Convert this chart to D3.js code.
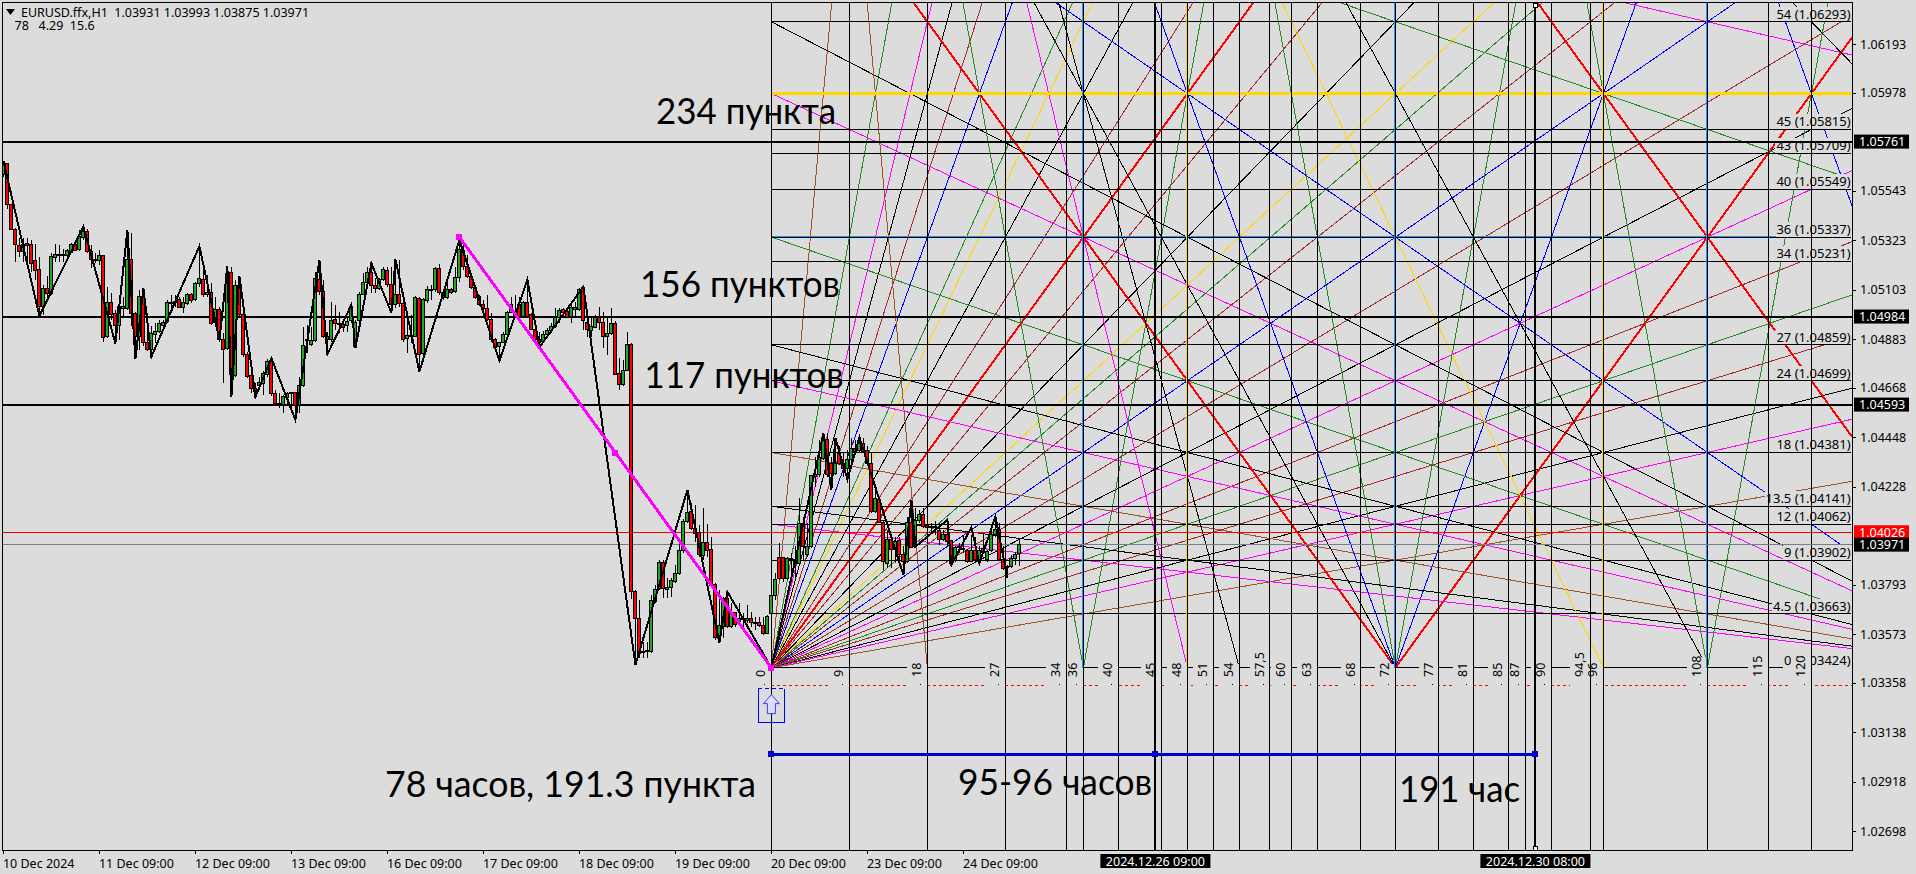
<!DOCTYPE html>
<html><head><meta charset="utf-8">
<script src="https://cdn.jsdelivr.net/npm/d3@7"></script>
<style>
html,body{margin:0;padding:0;background:#dcdcdc;overflow:hidden}
svg{display:block}
text{font-family:"Noto Sans",sans-serif;font-size:12.5px;fill:#000}
.lv{font-size:13px}
.big{font-family:Lato,"Open Sans",sans-serif;font-size:37px}
</style></head><body><svg id="c" width="1916" height="874"></svg>
<script>
// Candles: values are points above 1.00000 (price = 1 + n/100000), hourly bars from 10 Dec 2024
const opens=[5613,5662,5480,5369,5299,5273,5310,5302,5231,5191,
5028,5110,5088,5246,5256,5256,5255,5268,5305,5280,
5336,5361,5273,5239,5233,5253,4895,5048,4996,4944,
5021,5021,5236,4999,4895,5068,4869,4836,4906,4917,
4944,4962,5045,5051,5058,5025,5043,5083,5058,5132,
5150,5083,5092,4959,5016,4883,4843,5179,4722,5121,
4994,4817,4720,4666,4677,4688,4728,4784,4643,4599,
4595,4626,4643,4646,4587,4676,4877,4858,4877,5150,
5095,4895,4883,4972,4951,4947,4942,4965,4851,4965,
5084,5136,5179,5120,5110,5150,5188,5127,5036,5080,
5043,4888,4902,4895,5065,4821,5055,5102,5105,5198,
5090,5068,5102,5095,5158,5277,5206,5161,5113,5073,
5039,5021,4969,4883,4851,4870,4905,5003,5003,5039,
4984,5046,4991,4928,4880,4873,4905,4920,4939,4981,
5016,5005,4984,5016,5016,5113,4957,4922,4936,4979,
4957,4895,4910,4954,4732,4680,4744,4858,3762,3644,
3496,3495,3496,3718,3777,3893,3773,3780,3807,3844,
3943,4073,4118,4044,4024,3925,3981,3950,3792,3555,
3607,3733,3607,3669,3629,3644,3632,3644,3626,3626,
3614,3577,3667,3744,3915,3915,3822,3911,3906,3889,
4066,3926,3963,4273,4281,4355,4439,4333,4288,4377,
4333,4310,4350,4399,4389,4421,4389,4333,4118,4173,
4069,3889,3992,3948,3988,3929,3896,4069,3963,4077,
4106,4054,4047,4048,4034,3995,4017,3988,3900,3960,
3955,3945,3896,3945,3896,3955,3903,3943,4014,4040,
3906,3869,3874,3909,3931];
const closes=[5662,5480,5369,5305,5273,5305,5299,5221,5188,5028,
5110,5088,5250,5261,5261,5261,5276,5302,5277,5339,
5361,5273,5236,5234,5253,4891,5048,4991,4943,5028,
5028,5236,4999,4895,5073,4869,4836,4907,4916,4954,
4959,5048,5048,5046,5025,5048,5080,5055,5132,5154,
5080,5092,4954,5016,4880,4839,5176,4725,5124,4994,
4814,4717,4666,4651,4692,4729,4784,4643,4596,4595,
4629,4643,4648,4587,4677,4855,4883,4877,5151,5095,
4895,4880,4966,4954,4948,4935,4962,5021,4959,5084,
5136,5179,5120,5110,5150,5191,5127,5039,5080,5043,
4880,4898,4895,5070,4814,5058,5105,5105,5198,5090,
5070,5102,5090,5158,5280,5206,5161,5113,5070,5039,
5021,4969,4880,4846,4870,4905,5003,5039,4984,4984,
5046,4984,4928,4880,4868,4905,4920,4939,4981,5013,
5002,4981,5024,5022,5105,4965,4928,4939,4979,4957,
4895,4910,4954,4728,4680,4744,4861,3762,3644,3489,
3492,3499,3725,3774,3893,3777,3782,3814,3844,3943,
4076,4115,4044,4021,3928,3981,3947,3788,3560,3610,
3733,3607,3671,3615,3644,3640,3644,3625,3623,3611,
3577,3654,3744,3818,3819,3822,3911,3903,3889,4066,
3963,3963,4276,4281,4359,4439,4281,4288,4333,4333,
4310,4350,4399,4381,4421,4384,4333,4118,4174,4069,
3896,3992,3948,3985,3929,3896,4069,3960,4077,4106,
4051,4048,4051,4051,3995,4017,3985,3889,3958,3963,
3951,3896,3945,3903,3945,3936,3940,4017,4040,3906,
3866,3874,3909,3926,3971];
const highs=[5675,5668,5480,5376,5332,5332,5332,5324,5305,5247,
5125,5162,5265,5307,5302,5283,5283,5310,5313,5369,
5384,5372,5302,5265,5280,5258,5117,5088,5014,5073,
5073,5369,5354,5006,5102,5110,4999,4940,4954,4969,
4969,5058,5080,5080,5073,5073,5088,5088,5139,5287,
5221,5169,5132,5073,5028,4910,5206,5206,5147,5164,
4999,4828,4732,4688,4717,4740,4794,4799,4658,4643,
4636,4651,4651,4651,4717,4939,4947,4939,5184,5235,
5147,4917,5050,5036,5006,4962,4976,5036,4969,5095,
5176,5206,5221,5154,5154,5206,5206,5206,5238,5235,
5050,4991,4991,5076,5073,5065,5120,5124,5206,5218,
5099,5154,5110,5206,5324,5309,5258,5169,5117,5080,
5058,5080,4999,4888,4873,4917,5010,5073,5080,5073,
5053,5147,4999,4954,4917,4920,4932,4954,5021,5024,
5024,5021,5036,5050,5110,5120,4984,4984,4991,5025,
5006,4984,5021,4962,4799,4791,4914,4865,3770,3725,
3540,3540,3748,3792,3903,3903,3822,3822,3881,3984,
4084,4214,4155,4147,4058,4132,4063,4007,3799,3770,
3740,3762,3711,3674,3711,3666,3703,3674,3651,3651,
3651,3659,3755,3844,3977,3918,3918,3933,3963,4177,
4096,4066,4281,4362,4436,4466,4466,4362,4444,4407,
4377,4392,4444,4436,4451,4444,4407,4377,4229,4177,
4074,4037,4007,4007,4007,3963,4096,4170,4133,4125,
4133,4081,4066,4074,4066,4037,4077,3992,3966,3977,
4014,3951,4014,4007,3963,4022,3948,4051,4096,4066,
3963,3881,3926,3940,3993];
const lows=[5603,5461,5369,5225,5250,5228,5236,5184,5147,4987,
4991,5073,5080,5228,5228,5228,5250,5265,5273,5276,
5324,5265,5199,5221,5213,4873,4888,4969,4866,4880,
4984,5014,4940,4795,4836,4851,4829,4806,4866,4910,
4925,4954,5014,5028,5021,4999,5036,5043,5051,5117,
5073,5073,4947,4939,4873,4688,4836,4629,4717,4984,
4806,4710,4643,4629,4658,4636,4717,4629,4592,4577,
4555,4592,4584,4525,4555,4673,4821,4851,4873,5080,
4888,4821,4873,4925,4910,4917,4917,4954,4843,4962,
5080,5132,5087,5087,5102,5144,5117,5036,5021,5028,
4873,4824,4865,4892,4740,4814,5043,5058,5095,5080,
5058,5061,5084,5090,5139,5191,5154,5105,5061,5031,
5013,4962,4873,4839,4791,4865,4902,4999,4976,4954,
4976,4976,4925,4873,4858,4868,4895,4913,4935,4954,
4991,4976,4954,4984,5010,4925,4895,4892,4932,4925,
4843,4814,4902,4725,4658,4676,4740,3728,3437,3466,
3466,3466,3489,3711,3770,3733,3733,3740,3799,3836,
3936,4066,4036,3984,3918,3903,3918,3777,3548,3536,
3555,3600,3600,3607,3615,3607,3622,3607,3592,3607,
3570,3574,3424,3726,3815,3807,3815,3822,3829,3881,
3903,3918,3955,4229,4273,4347,4273,4214,4281,4325,
4273,4262,4310,4377,4384,4377,4325,4111,4111,4066,
3859,3866,3866,3889,3889,3837,3889,3955,3955,4066,
4044,4022,4022,4014,3970,3989,3963,3878,3896,3933,
3933,3889,3892,3896,3886,3933,3896,3937,4007,3903,
3859,3825,3866,3881,3875];
// Zigzag turning points
const zigBars=[0,9,20,28,31,33,35,37,49,54,56,57,59,63,67,73,79,81,87,88,92,97,98,104,114,124,131,134,145,158,171,179,181,192,205,207,208,211,214,225,227,228,236,237,242,244,248,251];
const zigPts=[5675,4987,5383,4865,5369,4794,5110,4806,5297,4880,5206,4629,5164,4628,4799,4525,5235,4817,5036,4843,5221,5000,5238,4739,5324,4788,5147,4848,5117,3437,4214,3536,3762,3424,4466,4214,4444,4261,4448,3837,4170,3962,4081,3881,4048,3888,4095,3824];
// Axes
const priceTicks=[1.06193,1.05978,1.05543,1.05323,1.05103,1.04883,1.04668,1.04448,1.04228,1.03793,1.03573,1.03358,1.03138,1.02918,1.02698];
const dateTickBars=[0,24,48,72,96,120,144,168,192,216,240];
const dateTickLabels=["10 Dec 2024","11 Dec 09:00","12 Dec 09:00","13 Dec 09:00","16 Dec 09:00","17 Dec 09:00","18 Dec 09:00","19 Dec 09:00","20 Dec 09:00","23 Dec 09:00","24 Dec 09:00"];
// Gann box
const gannBase=1.03424, gannTop=1.06293, gannTopLevel=54;
const levelValues=[54,45,43,40,36,34,27,24,18,13.5,12,9,4.5,0];
const levelPrices=["1.06293","1.05815","1.05709","1.05549","1.05337","1.05231","1.04859","1.04699","1.04381","1.04141","1.04062","1.03902","1.03663","1.03424"];
const timeLevels=[0,9,18,27,34,36,40,45,48,51,54,57.5,60,63,68,72,77,81,85,87,90,94.5,96,108,115,120];
const timeLabels=["0","9","18","27","34","36","40","45","48","51","54","57,5","60","63","68","72","77","81","85","87","90","94,5","96","108","115","120"];
const blueTimes=[36,72,108], goldTimes=[48,96];
// Rays from the origin (slope in levels per time unit)
const riseSlopes=[8,4,3,8/3,16/7,2,8/5,3/2,4/3,8/7,1,7/8,3/4,2/3,5/8,4/7,1/2,7/16,3/8,1/3,2/7,1/4,2/9,3/16,1/6,1/8];
const riseKinds=["s","g","m","k","b","u","g","y","k","b","r","b","k","y","g","b","u","b","k","m","b","g","b","k","m","s"];
// Other rays: start time, start level, slope, kind
const rays=[[36,0,4,"g"],[72,0,4,"g"],[108,0,4,"g"],[72,0,2,"u"],[72,0,1,"r"],
[0,12,-1/12,"m"],[0,13.5,-3/32,"k"],[0,18,-1/8,"s"],[0,24,-1/6,"m"],[0,27,-3/16,"k"],[0,36,-1/4,"g"],[0,48,-1/3,"m"],[0,54,-3/8,"k"],
[0,72,-1/2,"u"],[0,72,-1/4,"g"],[0,72,-1/6,"m"],[0,72,-1,"r"],[144,0,-1,"r"],[144,0,-2,"u"],[72,0,-2,"u"],
[192,0,-3/4,"k"],[96,0,-3/2,"y"],[108,0,-4/3,"k"],[72,0,-4/3,"k"],[54,0,-8/3,"k"],[48,0,-3,"m"],[18,0,-8,"s"],
[36,0,-4,"g"],[72,0,-4,"g"],[108,0,-4,"g"]];
const rayColor={s:"#A0522D",g:"#228B22",m:"#FF00FF",k:"#000000",b:"#A52A2A",u:"#0000FF",y:"#FFD700",r:"#FF0000"};
// Price lines and annotations
const thickPrices=[1.05761,1.04984,1.04593];
const askPrice=1.04026, bidPrice=1.03971, dashPrice=1.03345, goldLevel=48, blueLevel=36;
const badges=[["1.05761",1.05761,"#000"],["1.04984",1.04984,"#000"],["1.04593",1.04593,"#000"],["1.04026",1.04026,"#f00"],["1.03971",1.03971,"#000"]];
const trendBars=[114,153,192], trendPrices=[1.05337,1.04380,1.03424];
const spanBars=[192,288,383], spanPrice=1.03040,timeMarks=[288,383];
const notes=[["234 пункта",656,1.05839,180],["156 пунктов",640,1.05072,200],["117 пунктов",644.6,1.04667,199],["78 часов, 191.3 пункта",385,1.02851,371],["95-96 часов",958,1.02860,194],["191 час",1399,1.02828,121]];

const L=2,R=1852,T=2,B=850;
const x=d3.scaleLinear().domain([0,254]).range([3.4,3.4+4*254]);
const y=d3.scaleLinear().domain([1.06193,1.02698]).range([44.3,831.3]);
const pn=n=>1+n/100000;
const gx=d3.scaleLinear().domain([0,36]).range([x(192),x(192+78)]);
const gy=d3.scaleLinear().domain([0,gannTopLevel]).range([y(gannBase),y(gannTop)]);
const svg=d3.select("#c");
const defs=svg.append("defs");
defs.append("clipPath").attr("id","plot").append("rect").attr("x",L).attr("y",T).attr("width",R-L).attr("height",B-T);
const g=svg.append("g").attr("clip-path","url(#plot)").attr("shape-rendering","crispEdges");
const hl=(sel,x1,x2,yy,c,w)=>sel.append("line").attr("x1",x1).attr("x2",x2).attr("y1",yy).attr("y2",yy).attr("stroke",c).attr("stroke-width",w);
const vl=(sel,xx,c,w,yb=B)=>sel.append("line").attr("x1",xx).attr("x2",xx).attr("y1",T).attr("y2",yb).attr("stroke",c).attr("stroke-width",w);

// rays
const uMax=gx.invert(R), vMax=gy.invert(T);
const allRays=riseSlopes.map((s,i)=>[0,0,s,riseKinds[i]]).concat(rays);
const gRays=g.append("g");
gRays.selectAll("line").data(allRays).join("line").each(function(d){
  const [u0,v0,s]=d;
  const va=u=>v0+s*(u-u0);
  const ua=u0-v0/s;            // time where v=0
  const ut=u0+(vMax-v0)/s;     // time where v=top
  let a=Math.min(ua,ut), b=Math.max(ua,ut);
  a=Math.max(a,0); b=Math.min(b,uMax);
  d3.select(this).attr("x1",gx(a)).attr("y1",gy(va(a))).attr("x2",gx(b)).attr("y2",gy(va(b)));
}).attr("stroke",d=>rayColor[d[3]]).attr("stroke-width",d=>d[3]==="r"?2:1);

// base line and dashed line
const xEnd=1850.6;
hl(g,gx(0),xEnd,gy(0),"#000",1);
hl(g,gx(0),R,y(dashPrice),"#FF0000",1).attr("stroke-dasharray","3 3");

// level labels
const gLab=g.append("g");
levelValues.forEach((v,i)=>{
  const t=gLab.append("text").attr("class","lv").attr("x",xEnd).attr("y",gy(v)-3).attr("text-anchor","end").text(v+" ("+levelPrices[i]+")");
  const w=t.node().getComputedTextLength();
  gLab.insert("rect","text").attr("x",xEnd-w-1).attr("y",gy(v)-15).attr("width",w+2).attr("height",15).attr("fill","#dcdcdc");
});
// rotated time labels
const gRot=g.append("g");
timeLevels.forEach((u,i)=>{
  const lab=timeLabels[i];
  const tx=gx(u);
  gRot.append("rect").attr("x",tx-20).attr("width",20).attr("y",677-lab.length*6.7).attr("height",lab.length*6.7+13).attr("fill","#dcdcdc");
  gRot.append("text").attr("transform",`translate(${tx-6},677) rotate(-90)`).attr("shape-rendering","auto").text(lab);
  gRot.append("rect").attr("x",tx-7).attr("y",684).attr("width",1).attr("height",1).attr("fill","#000");
});
// level lines
levelValues.filter(v=>v>0).forEach(v=>hl(g,gx(0),xEnd,gy(v),"#000",1));
hl(g,gx(0),1776,gy(blueLevel)-1,"#1E90FF",1);
hl(g,gx(0),R,gy(goldLevel),"#FFD700",2.5);
// time lines: coloured ones stop at the base level
timeLevels.forEach(u=>vl(g,gx(u),"#000",1));
blueTimes.forEach(u=>vl(g,gx(u)-1,"#1E90FF",1,gy(0)));
goldTimes.forEach(u=>vl(g,gx(u)-1,"#FFD700",1,gy(0)));
timeMarks.forEach(b=>vl(g,x(b),"#000",2));

// thick price lines
thickPrices.forEach(p=>hl(g,L,R,y(p),"#000",2));
hl(g,L,R,y(bidPrice),"#708090",1);
hl(g,L,R,y(askPrice),"#FF0000",1);

// candles
const idx=d3.range(opens.length);
const gC=g.append("g");
gC.selectAll("line").data(idx).join("line").attr("x1",i=>x(i)).attr("x2",i=>x(i))
  .attr("y1",i=>y(pn(highs[i]))).attr("y2",i=>y(pn(lows[i]))).attr("stroke","#000").attr("stroke-width",1);
gC.selectAll("rect").data(idx).join("rect")
  .attr("x",i=>x(i)-1.5).attr("width",3)
  .attr("y",i=>y(pn(Math.max(opens[i],closes[i]))))
  .attr("height",i=>Math.max(1,y(pn(Math.min(opens[i],closes[i])))-y(pn(Math.max(opens[i],closes[i])))))
  .attr("fill",i=>closes[i]>=opens[i]?"#22A622":"#FF0000").attr("stroke","#000").attr("stroke-width",1);

// zigzag
g.append("path").attr("d",d3.line().x(d=>x(d[0])).y(d=>y(pn(d[1])))(zigBars.map((b,i)=>[b,zigPts[i]])))
  .attr("fill","none").attr("stroke","#000").attr("stroke-width",2);

// trend line
g.append("path").attr("d",d3.line().x(d=>x(d[0])).y(d=>y(d[1]))(trendBars.map((b,i)=>[b,trendPrices[i]])))
  .attr("fill","none").attr("stroke","#FF00FF").attr("stroke-width",3);
g.selectAll(".tm").data(trendBars).join("rect").attr("class","tm").attr("x",b=>x(b)-3).attr("width",6).attr("height",6)
  .attr("y",(b,i)=>y(trendPrices[i])-3).attr("fill","#FF00FF");

// horizontal measurement
hl(g,x(spanBars[0]),x(spanBars[2]),y(spanPrice),"#0000CC",3);
g.selectAll(".sm").data(spanBars).join("rect").attr("class","sm").attr("x",b=>x(b)-3).attr("y",y(spanPrice)-3).attr("width",6).attr("height",6).attr("fill","#0000CC");
// end handles of the last time line
[5,848].forEach(yy=>g.append("rect").attr("x",x(383)-2).attr("y",yy-2).attr("width",4).attr("height",4).attr("fill","#fff").attr("stroke","#000").attr("stroke-width",1));

// arrow
const ax=gx(0), ay=y(dashPrice);
g.append("path").attr("d",`M${ax-13},${ay+3}V${ay+37}H${ax+13}V${ay+3}`).attr("fill","none").attr("stroke","#0000FF");
hl(g,ax-13,ax+13,ay+3,"#0000FF",1).attr("stroke-dasharray","4 3");
g.append("path").attr("shape-rendering","auto").attr("d",`M${ax},${ay+9}L${ax+8},${ay+18}H${ax+4}V${ay+28}H${ax-4}V${ay+18}H${ax-8}Z`)
 .attr("fill","#dcdcff").attr("stroke","#3a3aff").attr("stroke-width",1);

// frame
svg.append("rect").attr("x",L).attr("y",T).attr("width",R-L).attr("height",B-T).attr("fill","none").attr("stroke","#000").attr("shape-rendering","crispEdges");

// axes
const yA=d3.axisRight(y).tickValues(priceTicks).tickFormat(d3.format(".5f")).tickSize(4).tickPadding(4);
const yG=svg.append("g").attr("transform",`translate(${R},0)`).call(yA);
const xA=d3.axisBottom(x).tickValues(dateTickBars).tickFormat((d,i)=>dateTickLabels[i]).tickSize(4).tickPadding(5);
const xG=svg.append("g").attr("transform",`translate(0,${B})`).call(xA);
[yG,xG].forEach(a=>{a.select(".domain").remove();a.selectAll("line").attr("stroke","#000").attr("shape-rendering","crispEdges");a.selectAll("text").attr("fill","#000").style("font-family",'"Noto Sans"').style("font-size","12.5px");});
xG.selectAll("text").attr("text-anchor","start").attr("dx",-1);

// badges
const bG=svg.append("g");
badges.forEach(([t,p,c])=>{
  bG.append("rect").attr("x",1854).attr("y",y(p)-7).attr("width",55).attr("height",14).attr("fill",c);
  bG.append("text").attr("x",1859).attr("y",y(p)+4.5).style("fill","#fff").text(t);
});
// time badges
[["2024.12.26 09:00",288],["2024.12.30 08:00",383]].forEach(([t,b])=>{
  svg.append("rect").attr("x",x(b)-55).attr("y",854).attr("width",110).attr("height",14).attr("fill","#000");
  svg.append("text").attr("x",x(b)).attr("y",865.5).attr("text-anchor","middle").style("fill","#fff").text(t);
});
// header
svg.append("path").attr("d","M6,9H15L10.5,15Z").attr("fill","#000");
svg.append("text").attr("x",21).attr("y",17).attr("xml:space","preserve").style("white-space","pre").text("EURUSD.ffx,H1  1.03931 1.03993 1.03875 1.03971");
svg.append("text").attr("x",14.5).attr("y",30).style("white-space","pre").text("78   4.29  15.6");
// big notes
notes.forEach(([t,xx,p,w])=>svg.append("text").attr("class","big").attr("x",xx).attr("y",y(p)).attr("textLength",w).attr("lengthAdjust","spacingAndGlyphs").text(t));
</script></body></html>
